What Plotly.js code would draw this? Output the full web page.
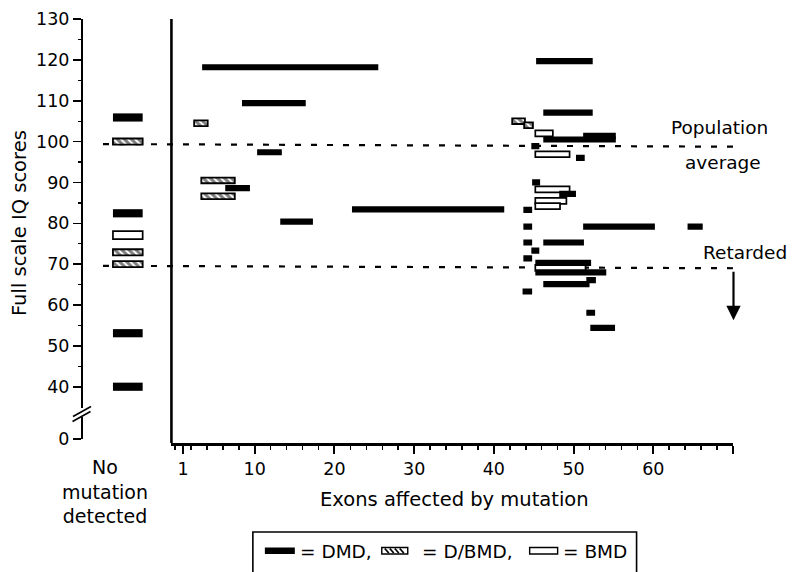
<!DOCTYPE html>
<html><head><meta charset="utf-8">
<script src="https://cdn.plot.ly/plotly-3.0.1.min.js"></script>
<style>html,body{margin:0;padding:0;background:#fff}#chart{width:794px;height:572px}</style>
</head><body><div id="chart"></div>
<script>
// ---------------- DATA ----------------
// DMD mutations: exon span (start, end) and full scale IQ
const dmdStart = [3.4, 8.4, 10.3, 6.3, 13.2, 22.2, 45.3, 46.2, 44.7, 46.2, 51.2, 50.3, 44.8, 48.2, 43.7, 43.7, 51.2, 64.3, 43.7, 46.2, 44.7, 43.7, 45.2, 45.2, 46.2, 51.6, 43.6, 51.6, 52.1];
const dmdEnd   = [25.5, 16.4, 13.4, 9.4, 17.3, 41.3, 52.4, 52.4, 45.7, 55.3, 55.3, 51.4, 45.8, 50.3, 44.8, 44.8, 60.2, 66.2, 44.8, 51.3, 45.7, 44.8, 52.2, 54.1, 52.0, 52.8, 44.8, 52.7, 55.2];
const dmdIQ    = [118.2, 109.4, 97.4, 88.6, 80.4, 83.4, 119.7, 107.1, 98.9, 100.5, 101.4, 96.0, 90.0, 87.2, 83.3, 79.2, 79.2, 79.2, 75.3, 75.3, 73.3, 71.4, 70.3, 68.0, 65.1, 66.1, 63.3, 58.1, 54.4];
// D/BMD mutations
const dbmdStart = [2.4, 3.3, 3.3, 42.3, 43.8];
const dbmdEnd   = [4.1, 7.5, 7.5, 43.9, 44.9];
const dbmdIQ    = [104.5, 90.5, 86.6, 105.0, 104.0];
// BMD mutations
const bmdStart = [45.2, 45.2, 45.2, 45.2, 45.2, 45.2];
const bmdEnd   = [47.4, 49.5, 49.5, 49.1, 48.3, 51.5];
const bmdIQ    = [102.0, 96.9, 88.3, 85.5, 84.2, 69.1];
// No mutation detected
const noMutIQ   = [105.9, 100.0, 82.45, 77.1, 72.9, 70.0, 53.1, 40.0];
const noMutType = ['DMD', 'D/BMD', 'DMD', 'BMD', 'D/BMD', 'D/BMD', 'DMD', 'DMD'];
// Axis ticks (y axis has a break between 0 and 40)
const yTickVals = [27.2, 40, 50, 60, 70, 80, 90, 100, 110, 120, 130];
const yTickText = ['0', '40', '50', '60', '70', '80', '90', '100', '110', '120', '130'];
const yMinorVals = [45, 55, 65, 75, 85, 95, 105, 115, 125];
const xTickVals = [1, 10, 20, 30, 40, 50, 60, 70];
const xTickText = ['1', '10', '20', '30', '40', '50', '60', ''];

// ---------------- GEOMETRY ----------------
const W = 794, H = 572;
const L = 82, R = 733.5, T = 19, B = 443;
const px = x => (x - L) / (R - L);
const py = y => (B - y) / (B - T);
const FONT = 'DejaVu Sans';

const styles = {
  'DMD':   {color: 'black', line: {color: 'black', width: 0}},
  'D/BMD': {color: 'white', line: {color: 'black', width: 1.8},
            pattern: {shape: '\\', fgcolor: 'black', bgcolor: 'white', size: 5, solidity: 0.6, fillmode: 'overlay'}},
  'BMD':   {color: 'white', line: {color: 'black', width: 1.7}}
};
const mainThick = {'DMD': 1.5, 'D/BMD': 1.4, 'BMD': 1.45};
const leftThick = {'DMD': 2.0, 'D/BMD': 1.5, 'BMD': 1.95};

function mainTrace(type, s, e, iq) {
  return {
    type: 'bar', orientation: 'h', xaxis: 'x2', yaxis: 'y',
    y: iq, base: s, x: s.map((v, i) => e[i] - v),
    width: iq.map(() => mainThick[type]),
    marker: styles[type], hoverinfo: 'skip'
  };
}
function leftTrace(type) {
  const iq = noMutIQ.filter((v, i) => noMutType[i] === type);
  return {
    type: 'bar', orientation: 'h', xaxis: 'x', yaxis: 'y',
    y: iq, base: iq.map(() => 0.352), x: iq.map(() => 0.338),
    width: iq.map(() => leftThick[type]),
    marker: styles[type], hoverinfo: 'skip'
  };
}

const data = [
  leftTrace('BMD'), leftTrace('D/BMD'), leftTrace('DMD'),
  mainTrace('BMD', bmdStart, bmdEnd, bmdIQ),
  mainTrace('D/BMD', dbmdStart, dbmdEnd, dbmdIQ),
  mainTrace('DMD', dmdStart, dmdEnd, dmdIQ)
];

const shapes = [
  // left y axis with break
  {type: 'line', xref: 'paper', yref: 'y', x0: 0, x1: 0, y0: 130, y1: 34.8, line: {color: 'black', width: 2}},
  {type: 'line', xref: 'paper', yref: 'y', x0: 0, x1: 0, y0: 32.6, y1: 27.2, line: {color: 'black', width: 2}},
  {type: 'line', xref: 'paper', yref: 'paper', x0: px(73), y0: py(416.5), x1: px(91), y1: py(406.5), line: {color: 'black', width: 1.6}},
  {type: 'line', xref: 'paper', yref: 'paper', x0: px(72.5), y0: py(421.5), x1: px(90.5), y1: py(411.5), line: {color: 'black', width: 1.6}},
  // main vertical axis
  {type: 'line', xref: 'x2 domain', yref: 'paper', x0: 0, x1: 0, y0: 0, y1: 1, line: {color: 'black', width: 2.6}},
  // reference lines
  {type: 'line', layer: 'below', xref: 'paper', yref: 'y', x0: px(103), x1: 1, y0: 99.4, y1: 98.75, line: {color: 'black', width: 2.2, dash: '6px,10px'}},
  {type: 'line', layer: 'below', xref: 'paper', yref: 'y', x0: px(103), x1: 1, y0: 69.6, y1: 69.0, line: {color: 'black', width: 2.2, dash: '6px,10px'}},
  // legend box and symbols
  {type: 'rect', xref: 'paper', yref: 'paper', x0: px(253), x1: px(637), y0: py(532), y1: py(600), line: {color: 'black', width: 1.6}},
  {type: 'rect', xref: 'paper', yref: 'paper', x0: px(265), x1: px(295), y0: py(547.5), y1: py(554), fillcolor: 'black', line: {color: 'black', width: 0}},
  {type: 'rect', xref: 'paper', yref: 'paper', x0: px(382), x1: px(408), y0: py(547.5), y1: py(554), fillcolor: 'white', line: {color: 'black', width: 1.4}},
  {type: 'rect', xref: 'paper', yref: 'paper', x0: px(530), x1: px(558), y0: py(547.5), y1: py(554), fillcolor: 'white', line: {color: 'black', width: 1.4}}
];
// hatch strokes in legend D/BMD symbol
[385, 390, 395, 400].forEach(x => shapes.push({type: 'line', xref: 'paper', yref: 'paper',
  x0: px(x), y0: py(548.5), x1: px(x + 4), y1: py(553), line: {color: 'black', width: 1.8}}));

function txt(text, x, y, size, extra) {
  return Object.assign({text: text, xref: 'paper', yref: 'paper', x: px(x), y: py(y),
    showarrow: false, font: {family: FONT, size: size, color: 'black'}, xanchor: 'center', yanchor: 'middle'}, extra || {});
}
const annotations = [
  txt('Full scale IQ scores', 19, 223, 19.5, {textangle: -90}),
  txt('Exons affected by mutation', 455, 499, 19.5),
  txt('No<br>mutation<br>detected', 105, 492, 19, {align: 'center'}),
  txt('Population', 720, 127, 18.5),
  txt('average', 723, 162, 18.5),
  txt('Retarded', 746, 253, 18.5),
  txt('= DMD,', 298, 551, 18.5, {xanchor: 'left'}),
  txt('= D/BMD,', 468, 551, 18.5),
  txt('= BMD', 561.5, 551, 18.5, {xanchor: 'left'}),
  {text: '', xref: 'paper', yref: 'y', x: px(734), y: 56.3, ax: 0, ay: -50, showarrow: true,
   arrowhead: 2, arrowsize: 1.3, arrowwidth: 2.2, arrowcolor: 'black'}
];

const layout = {
  width: W, height: H,
  margin: {l: L, r: W - R, t: T, b: H - B, pad: 0},
  paper_bgcolor: 'white', plot_bgcolor: 'white',
  font: {family: FONT, color: 'black'},
  showlegend: false, barmode: 'overlay',
  xaxis: {domain: [0, px(170)], range: [0, 1], visible: false, fixedrange: true},
  xaxis2: {domain: [px(171.5), 1], range: [-0.45, 70], anchor: 'y',
    showline: true, linewidth: 2.6, linecolor: 'black', showgrid: false, zeroline: false,
    tickmode: 'array', tickvals: xTickVals, ticktext: xTickText,
    ticks: 'outside', ticklen: 8, tickwidth: 2, tickcolor: 'black',
    tickfont: {family: FONT, size: 17.5, color: 'black'},
    minor: {tick0: 0, dtick: 2, ticks: 'outside', ticklen: 4, tickwidth: 1.5, tickcolor: 'black'}},
  yaxis: {range: [26.23, 130], showline: false, showgrid: false, zeroline: false,
    tickmode: 'array', tickvals: yTickVals, ticktext: yTickText,
    ticks: 'outside', ticklen: 8, tickwidth: 1.6, tickcolor: 'black',
    tickfont: {family: FONT, size: 17.5, color: 'black'},
    minor: {tickmode: 'array', tickvals: yMinorVals, ticks: 'outside', ticklen: 3, tickwidth: 1.3, tickcolor: 'black'}},
  shapes: shapes,
  annotations: annotations
};

Plotly.newPlot('chart', data, layout, {displayModeBar: false, staticPlot: true});
</script>
</body></html>
